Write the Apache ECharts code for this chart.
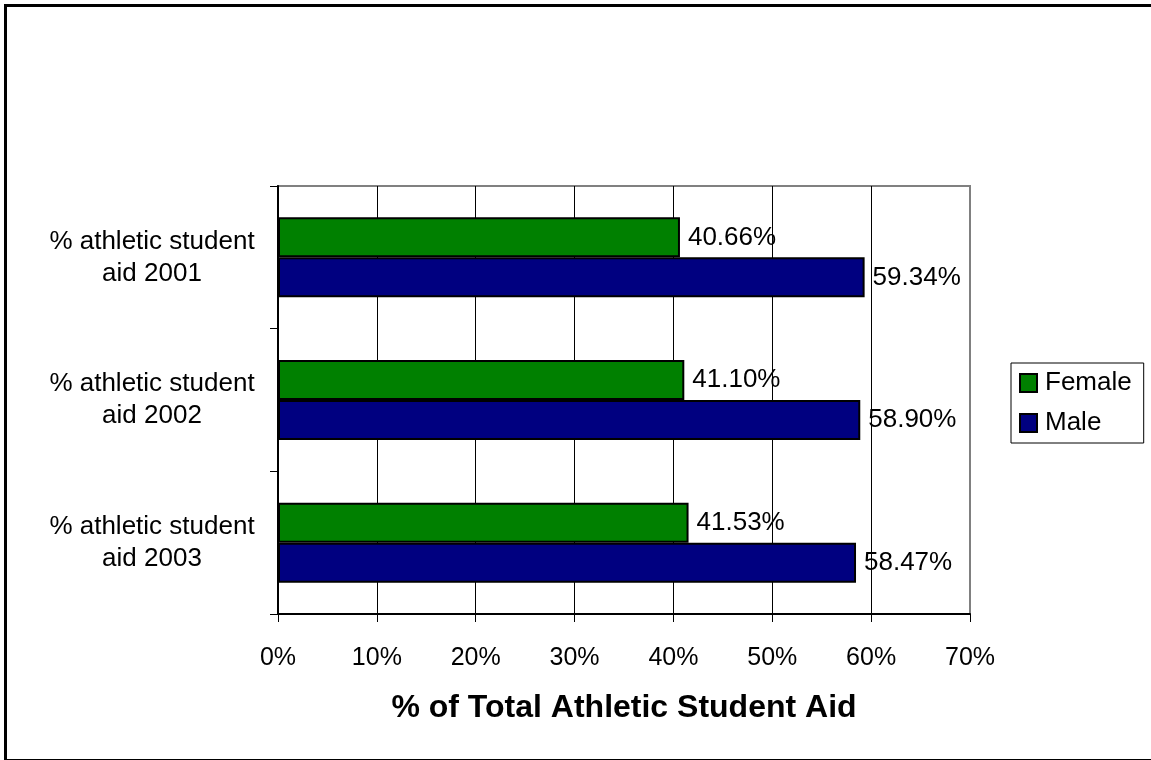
<!DOCTYPE html>
<html>
<head>
<meta charset="utf-8">
<title>% of Total Athletic Student Aid</title>
<script src="https://cdn.jsdelivr.net/npm/echarts@6/dist/echarts.min.js"></script>
<style>
  html, body { margin: 0; padding: 0; background: #fff; }
  #chart { width: 1151px; height: 760px; }
</style>
</head>
<body>
<div id="chart"></div>
<script>
// Categories (top to bottom) and per-series percentages
const categories = ['% athletic student\naid 2001', '% athletic student\naid 2002', '% athletic student\naid 2003'];
const femaleValues = [40.66, 41.10, 41.53];
const maleValues = [59.34, 58.90, 58.47];
const seriesNames = ['Female', 'Male'];
const axisTitle = '% of Total Athletic Student Aid';

const FONT = '"Liberation Sans", Arial, sans-serif';

const chart = echarts.init(document.getElementById('chart'), null, { renderer: 'canvas' });

const labelStyle = {
  show: true,
  position: 'right',
  distance: 8,
  color: '#000',
  fontFamily: FONT,
  fontSize: 26,
  formatter: p => p.value.toFixed(2) + '%'
};

// vertical gridlines: black inside, grey where they coincide with the plot frame
const gridLineColors = ['#000', '#000', '#000', '#000', '#000', '#000', '#000', '#808080'];

chart.setOption({
  backgroundColor: '#fff',
  animation: false,
  graphic: [{
    type: 'rect',
    shape: { x: 5.5, y: 5.5, width: 1160, height: 755 },
    style: { fill: 'none', stroke: '#000', lineWidth: 3 },
    silent: true
  }],
  grid: {
    left: 278, right: 181, top: 186, bottom: 146,
    show: true,
    borderColor: '#808080',
    borderWidth: 2,
    containLabel: false
  },
  legend: {
    orient: 'vertical',
    left: 1011,
    top: 363,
    padding: [6, 12, 6, 8],
    itemWidth: 17,
    itemHeight: 18,
    itemGap: 12,
    icon: 'rect',
    borderColor: '#000',
    borderWidth: 1,
    backgroundColor: '#fff',
    textStyle: { fontFamily: FONT, fontSize: 26, color: '#000', lineHeight: 28, padding: [0, 0, 0, 3] },
    data: seriesNames
  },
  xAxis: {
    type: 'value',
    min: 0,
    max: 70,
    interval: 10,
    name: axisTitle,
    nameLocation: 'middle',
    nameGap: 78,
    nameTextStyle: { fontFamily: FONT, fontSize: 32, fontWeight: 'bold', color: '#000' },
    axisLine: { show: true, lineStyle: { color: '#000', width: 2 } },
    axisTick: { show: true, length: 8, lineStyle: { color: '#000', width: 1 } },
    axisLabel: { fontFamily: FONT, fontSize: 25, color: '#000', margin: 32, formatter: '{value}%' },
    splitLine: { show: true, lineStyle: { color: gridLineColors, width: 1 } }
  },
  yAxis: {
    type: 'category',
    inverse: true,
    data: categories,
    axisLine: { show: true, lineStyle: { color: '#000', width: 2 } },
    axisTick: { show: true, length: 8, lineStyle: { color: '#000', width: 1 } },
    axisLabel: {
      fontFamily: FONT, fontSize: 26, color: '#000',
      align: 'center', lineHeight: 32, margin: 126,
      padding: [6, 0, 0, 0]
    }
  },
  series: [
    {
      name: seriesNames[0],
      type: 'bar',
      data: femaleValues,
      barWidth: 40,
      barGap: '0%',
      itemStyle: { color: '#008000', borderColor: '#000', borderWidth: 2 },
      label: labelStyle
    },
    {
      name: seriesNames[1],
      type: 'bar',
      data: maleValues,
      barWidth: 40,
      barGap: '0%',
      itemStyle: { color: '#000080', borderColor: '#000', borderWidth: 2 },
      label: labelStyle
    }
  ]
});
</script>
</body>
</html>
